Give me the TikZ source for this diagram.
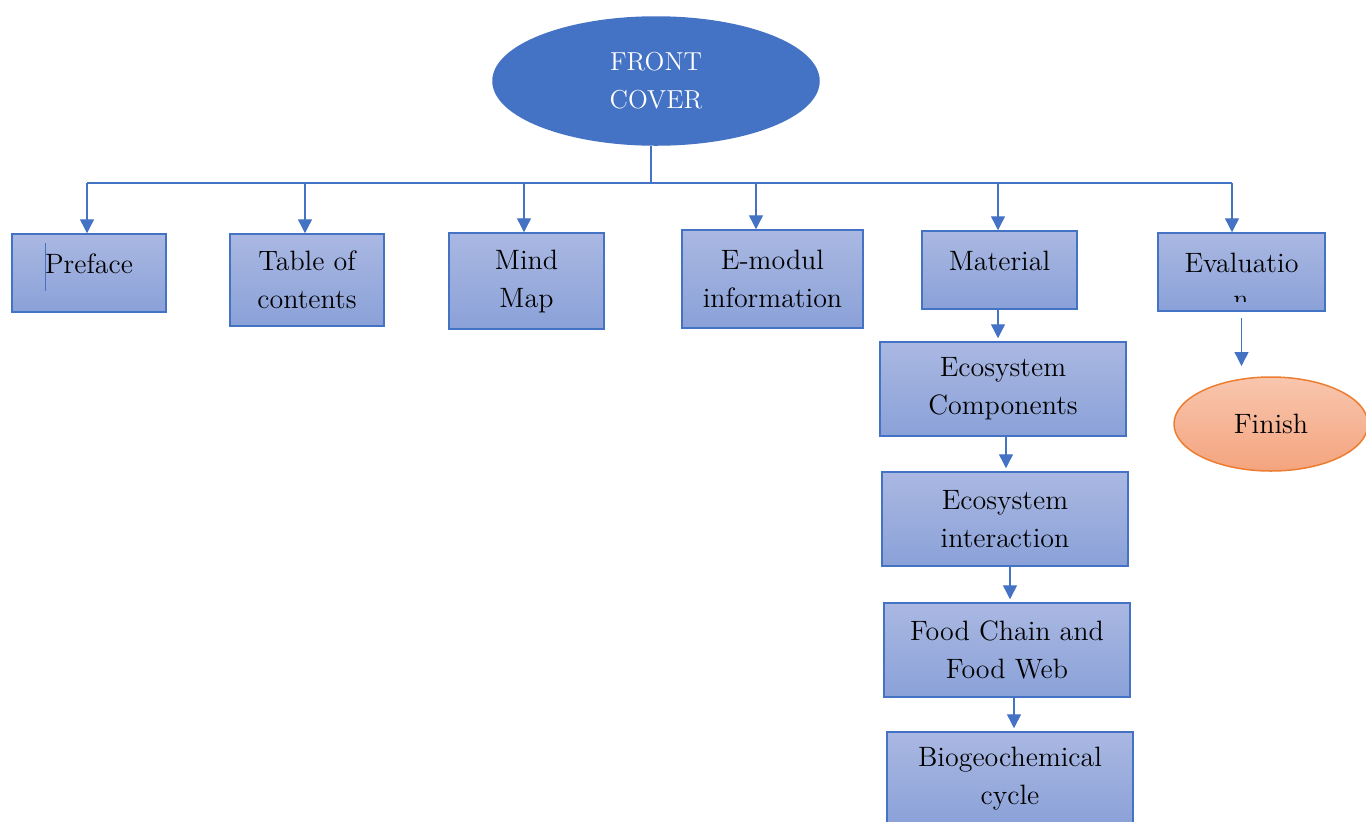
\documentclass[tikz,border=0pt]{standalone}
\usepackage{tikz}
\usetikzlibrary{positioning, arrows.meta, calc, shapes.geometric}
\definecolor{bxTop}{HTML}{AAB8E2}
\definecolor{bxBot}{HTML}{8AA1D8}
\definecolor{bxLine}{HTML}{4472C4}
\definecolor{fcFill}{HTML}{4472C4}
\definecolor{finTop}{HTML}{F8C6AE}
\definecolor{finBot}{HTML}{F4A47E}
\definecolor{finLine}{HTML}{ED7D31}

\begin{document}
\begin{tikzpicture}[
    x=0.5pt, y=-0.5pt,
    font=\fontsize{14}{19}\selectfont,
    box/.style={
        rectangle, draw=bxLine, line width=0.75pt,
        top color=bxTop, bottom color=bxBot,
        align=center, inner sep=2pt, text=black
    },
    onebox/.style={box, text depth=9pt},
    oval/.style={ellipse, inner sep=0pt, line width=0.75pt, align=center},
    arr/.style={-{Triangle[width=7pt, length=7pt]}, draw=bxLine, line width=0.7pt},
    wire/.style={draw=bxLine, line width=0.7pt},
]
\useasboundingbox (0,0) rectangle (1366,821);

% ---------------------------------------------------------------- top
\node (fc) [oval, fill=fcFill, draw=fcFill, minimum width=163pt, minimum height=64pt,
    text=white, font=\fontsize{13}{19}\selectfont] at (656,81) {FRONT\\COVER};

% ---------------------------------------------------------------- first row
\node (pref)  [onebox, minimum width=77pt,   minimum height=39pt] at (89,273)     {Preface};
\node (toc)   [box,    minimum width=77pt,   minimum height=46pt] at (307,280)    {Table of\\contents};
\node (mind)  [box,    minimum width=77.5pt, minimum height=48pt] at (526.5,281)  {Mind\\Map};
\node (emod)  [box,    minimum width=90.5pt, minimum height=49pt] at (772.5,279)  {E-modul\\information};
\node (mat)   [onebox, minimum width=77.5pt, minimum height=39pt] at (999.5,270)  {Material};
\node (eval)  [onebox, minimum width=83.5pt, minimum height=39pt] at (1241.5,272) {Evaluatio};

% cursor mark left in the preface box
\draw [bxLine, line width=0.5pt] (45,243) -- (45,291);

% second line of the evaluation box, cut off by the box
\begin{scope}
    \clip (eval.north west) rectangle ($(eval.south east)+(0,-10)$);
    \node (evaln) [anchor=base, inner sep=0pt] at (1241,308) {n};
\end{scope}

% ---------------------------------------------------------------- bus
\coordinate (btop) at (651,183);
\coordinate (b1) at (87,183);
\coordinate (b2) at (305,183);
\coordinate (b3) at (524,183);
\coordinate (b4) at (756,183);
\coordinate (b5) at (998,183);
\coordinate (b6) at (1232,183);

\draw [wire] (btop |- fc.south) -- (btop);
\draw [wire] (b1) -- (b6);
\draw [arr] (b1) -- (b1 |- pref.north);
\draw [arr] (b2) -- (b2 |- toc.north);
\draw [arr] (b3) -- (b3 |- mind.north);
\draw [arr] (b4) -- (b4 |- emod.north);
\draw [arr] (b5) -- (b5 |- mat.north);
\draw [arr] (b6) -- (b6 |- eval.north);

% ---------------------------------------------------------------- material chain
\node (eco)   [box, minimum width=123pt, minimum height=47pt] at (1003,389) {Ecosystem\\Components};
\node (inter) [box, minimum width=123pt, minimum height=47pt] at (1005,519) {Ecosystem\\interaction};
\node (food)  [box, minimum width=123pt, minimum height=47pt] at (1007,650) {Food Chain and\\Food Web};
\node (bio)   [box, minimum width=123pt, minimum height=47pt] at (1010,779) {Biogeochemical\\cycle};

\draw [arr, shorten >=1.5pt] ([xshift=-0.75pt]mat.south)  -- ([xshift=-0.75pt]mat.south |- eco.north);
\draw [arr, shorten >=1.5pt] ([xshift=1.5pt]eco.south)    -- ([xshift=1.5pt]eco.south |- inter.north);
\draw [arr, shorten >=1.5pt] ([xshift=2.5pt]inter.south)  -- ([xshift=2.5pt]inter.south |- food.north);
\draw [arr, shorten >=1.5pt] ([xshift=3.5pt]food.south)   -- ([xshift=3.5pt]food.south |- bio.north);

% ---------------------------------------------------------------- finish
\node (fin) [oval, draw=finLine, top color=finTop, bottom color=finBot,
    minimum width=97pt, minimum height=47pt] at (1271,424) {Finish};

\coordinate (finin) at (1241.5,366);
\draw [arr] ($(eval.south)+(0,6)$) -- (finin);

\end{tikzpicture}
\end{document}
